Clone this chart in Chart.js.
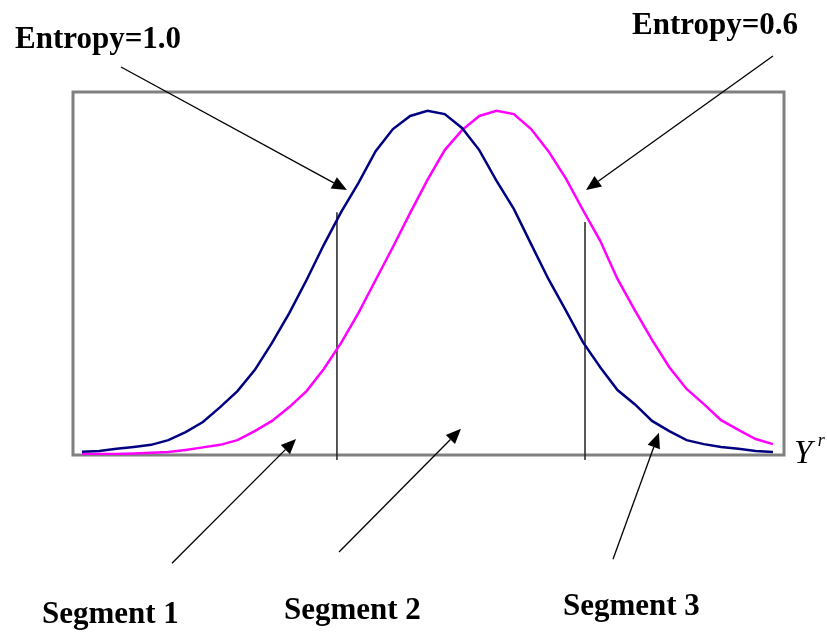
<!DOCTYPE html>
<html>
<head>
<meta charset="utf-8">
<script src="https://cdn.jsdelivr.net/npm/chart.js@4/dist/chart.umd.min.js"></script>
<style>
  html, body { margin: 0; padding: 0; background: #fff; }
</style>
</head>
<body>
<canvas id="chart" width="827" height="635"></canvas>
<script>
// step positions along Y^r
const steps = [0, 1, 2, 3, 4, 5, 6, 7, 8, 9, 10, 11, 12, 13, 14, 15, 16, 17, 18, 19, 20,
  21, 22, 23, 24, 25, 26, 27, 28, 29, 30, 31, 32, 33, 34, 35, 36, 37, 38, 39, 40];

// Entropy=1.0 curve (navy)
const entropy10 = [0.9, 1.1, 1.7, 2.2, 2.8, 4.1, 6.3, 9.1, 13.2, 17.6, 23.4, 30.9, 39.1, 48.2,
  57.9, 66.9, 74.9, 83.7, 89.8, 93.4, 94.8, 93.9, 90.1, 84.0, 75.5, 67.8, 58.1, 48.5, 39.9,
  31.1, 24.2, 17.9, 14.0, 9.4, 6.6, 4.1, 3.0, 2.2, 1.7, 1.1, 0.8];

// Entropy=0.6 curve (magenta)
const entropy06 = [0.3, 0.3, 0.3, 0.4, 0.6, 0.8, 1.4, 2.1, 2.8, 4.1, 6.6, 9.4, 13.2, 17.6,
  23.7, 30.9, 39.1, 48.2, 57.3, 66.7, 75.8, 84.0, 89.5, 93.4, 94.8, 93.9, 89.8, 83.7, 76.3,
  67.5, 59.0, 48.5, 39.9, 31.7, 24.2, 18.2, 14.0, 9.6, 6.9, 4.4, 3.0];

// segment boundaries
const cutX = [14.76, 29.12];
const cutTop = [66.9, 64.2];
const cutBottom = -1.4;

// annotations, in data units: [fromX, fromY, tipX, tipY]
const arrows = [
  [2.26, 106.9, 15.34, 73.0],
  [40.0, 109.9, 29.18, 73.0],
  [5.21, -29.8, 12.39, 4.4],
  [14.88, -26.7, 21.94, 7.2],
  [30.74, -28.7, 33.40, 6.1]
];
const labels = ['Entropy=1.0', 'Entropy=0.6', 'Segment 1', 'Segment 2', 'Segment 3'];
const labelX = [-3.88, 31.84, -2.32, 11.69, 27.84];
const labelY = [112.1, 116.1, -46.3, -45.3, -44.2];

const toPoints = (vals) => vals.map((v, i) => ({ x: steps[i], y: v }));

const framePlugin = {
  id: 'frame',
  beforeDatasetsDraw(chart) {
    const { ctx, chartArea: a } = chart;
    ctx.save();
    ctx.strokeStyle = '#808080';
    ctx.lineWidth = 3;
    ctx.strokeRect(a.left, a.top, a.right - a.left, a.bottom - a.top);
    ctx.restore();
  }
};

const notePlugin = {
  id: 'notes',
  afterDatasetsDraw(chart) {
    const { ctx } = chart;
    const xs = chart.scales.x, ys = chart.scales.y;
    ctx.save();
    ctx.strokeStyle = '#000';
    ctx.fillStyle = '#000';
    ctx.lineWidth = 1.3;
    arrows.forEach(([fx, fy, tx, ty]) => {
      const x1 = xs.getPixelForValue(fx), y1 = ys.getPixelForValue(fy);
      const x2 = xs.getPixelForValue(tx), y2 = ys.getPixelForValue(ty);
      const ang = Math.atan2(y2 - y1, x2 - x1);
      const len = 15, half = 6.5;
      const bx = x2 - len * Math.cos(ang), by = y2 - len * Math.sin(ang);
      ctx.beginPath();
      ctx.moveTo(x1, y1);
      ctx.lineTo(bx, by);
      ctx.stroke();
      ctx.beginPath();
      ctx.moveTo(x2, y2);
      ctx.lineTo(bx + half * Math.sin(ang), by - half * Math.cos(ang));
      ctx.lineTo(bx - half * Math.sin(ang), by + half * Math.cos(ang));
      ctx.closePath();
      ctx.fill();
    });

    ctx.font = 'bold 31px "Liberation Serif", "Times New Roman", serif';
    ctx.textAlign = 'left';
    ctx.textBaseline = 'alphabetic';
    labels.forEach((t, i) => {
      ctx.fillText(t, xs.getPixelForValue(labelX[i]), ys.getPixelForValue(labelY[i]));
    });

    // axis name Y^r
    ctx.font = 'italic 33px "Liberation Serif", "Times New Roman", serif';
    ctx.fillText('Y', xs.getPixelForValue(41.22), ys.getPixelForValue(-2.2));
    ctx.font = 'italic 18px "Liberation Serif", "Times New Roman", serif';
    ctx.fillText('r', xs.getPixelForValue(42.6), ys.getPixelForValue(2.6));
    ctx.restore();
  }
};

const cutSets = cutX.map((x, i) => ({
  data: [{ x: x, y: cutBottom }, { x: x, y: cutTop[i] }],
  borderColor: '#222',
  borderWidth: 1.5,
  pointRadius: 0,
  clip: false
}));

new Chart(document.getElementById('chart').getContext('2d'), {
  type: 'line',
  data: {
    datasets: [{
      label: 'Entropy=1.0',
      data: toPoints(entropy10),
      borderColor: '#000080',
      borderWidth: 2.5,
      pointRadius: 0,
      tension: 0
    }, {
      label: 'Entropy=0.6',
      data: toPoints(entropy06),
      borderColor: '#ff00ff',
      borderWidth: 2.5,
      pointRadius: 0,
      tension: 0
    }, ...cutSets]
  },
  options: {
    responsive: false,
    animation: false,
    layout: {
      padding: { left: 73, right: 43, top: 92, bottom: 180 }
    },
    plugins: {
      legend: { display: false },
      tooltip: { enabled: false }
    },
    scales: {
      x: { type: 'linear', min: -0.52, max: 40.64, display: false },
      y: { min: 0, max: 100, display: false }
    }
  },
  plugins: [framePlugin, notePlugin]
});
</script>
</body>
</html>
